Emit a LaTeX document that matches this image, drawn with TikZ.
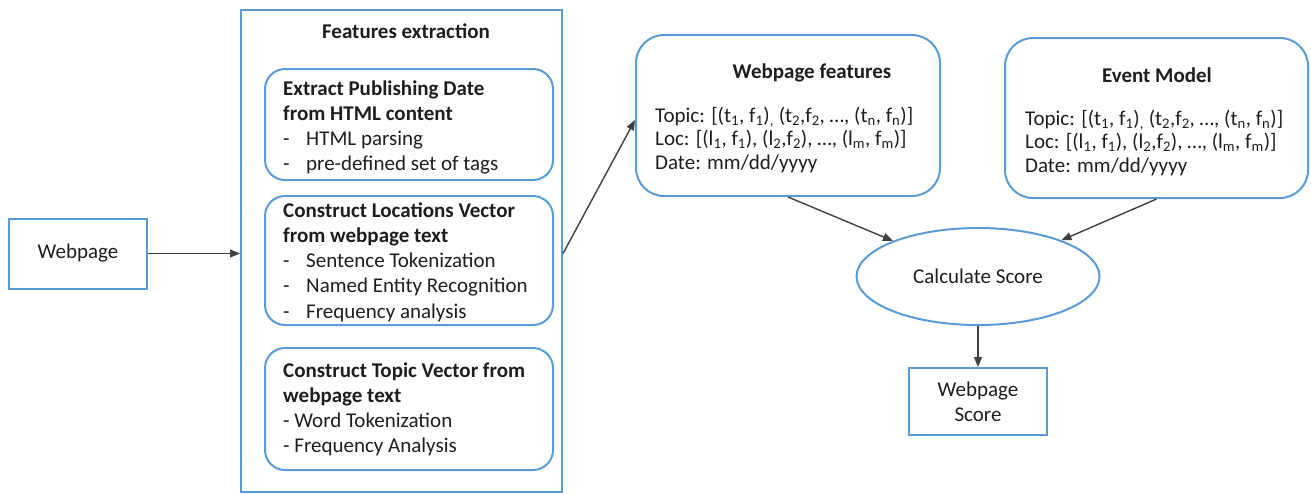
\documentclass[tikz,border=0pt]{standalone}
\usepackage{fontspec}
\setmainfont{Carlito}
\usetikzlibrary{arrows.meta,shapes.geometric}
\definecolor{boxblue}{RGB}{91,155,213}
\definecolor{linkgray}{RGB}{64,64,64}
\definecolor{inkcol}{RGB}{30,30,30}

% body text size and the two line pitches used in the boxes
\newcommand{\bodyfont}{\fontsize{21}{25.3}\selectfont}
\newcommand{\vecfont}{\fontsize{21}{23.5}\selectfont}
% dashed list item with a tab after the dash
\newcommand{\dashitem}[1]{\makebox[23pt][l]{-}#1}
\newcommand{\sbs}[1]{\textsubscript{#1}}

\begin{document}
\begin{tikzpicture}[x=1pt,y=-1pt,
  every node/.style={font=\bodyfont, text=inkcol},
  sqbox/.style={draw=boxblue, line width=2pt, inner sep=0pt},
  rbox/.style={sqbox, rounded corners=20pt},
  bigbox/.style={sqbox, rounded corners=28pt},
  txt/.style={anchor=base west, inner sep=0pt},
  ttl/.style={anchor=base, inner sep=0pt, font=\bodyfont\bfseries},
  link/.style={draw=linkgray, line width=1.4pt, -{Triangle[length=10pt,width=8pt]}}]

\useasboundingbox (0,0) rectangle (1311,493);

% input page
\node[sqbox, minimum width=138pt, minimum height=70pt] (web) at (78,253.5) {Webpage};

% feature extraction stage
\node[sqbox, minimum width=321pt, minimum height=482pt] (feat) at (401.5,251) {};
\node[ttl] (featttl) at (406,38) {Features extraction};

\node[rbox, minimum width=288pt, minimum height=111pt] (pub) at (409,124.5) {};
\node[txt] (pubtxt) at (283,95) {\begin{tabular}[t]{@{}l@{}}
  \bfseries Extract Publishing Date\\
  \bfseries from HTML content\\
  \dashitem{HTML parsing}\\
  \dashitem{pre-defined set of tags}
\end{tabular}};

\node[rbox, minimum width=288pt, minimum height=129pt] (loc) at (409,260.5) {};
\node[txt] (loctxt) at (283,217) {\begin{tabular}[t]{@{}l@{}}
  \bfseries Construct Locations Vector\\
  \bfseries from webpage text\\
  \dashitem{Sentence Tokenization}\\
  \dashitem{Named Entity Recognition}\\
  \dashitem{Frequency analysis}
\end{tabular}};

\node[rbox, minimum width=288pt, minimum height=122pt] (topic) at (409,409) {};
\node[txt] (topictxt) at (283,377) {\begin{tabular}[t]{@{}l@{}}
  \bfseries Construct Topic Vector from\\
  \bfseries webpage text\\
  - Word Tokenization\\
  - Frequency Analysis
\end{tabular}};

% feature vectors of the page
\node[bigbox, minimum width=304pt, minimum height=161pt] (wf) at (788,115.5) {};
\node[ttl] (wfttl) at (812,78) {Webpage features};
\node[txt, font=\vecfont] (wftxt) at (655,122) {\begin{tabular}[t]{@{}l@{}}
  Topic: [(t\sbs{1}, f\sbs{1})\sbs{,} (t\sbs{2},f\sbs{2}, …, (t\sbs{n}, f\sbs{n})]\\
  Loc: [(l\sbs{1}, f\sbs{1}), (l\sbs{2},f\sbs{2}), …, (l\sbs{m}, f\sbs{m})]\\
  Date: mm/dd/yyyy
\end{tabular}};

% event model
\node[bigbox, minimum width=303pt, minimum height=160pt] (em) at (1156.5,118) {};
\node[ttl] (emttl) at (1157,82) {Event Model};
\node[txt, font=\vecfont] (emtxt) at (1025,125) {\begin{tabular}[t]{@{}l@{}}
  Topic: [(t\sbs{1}, f\sbs{1})\sbs{,} (t\sbs{2},f\sbs{2}, …, (t\sbs{n}, f\sbs{n})]\\
  Loc: [(l\sbs{1}, f\sbs{1}), (l\sbs{2},f\sbs{2}), …, (l\sbs{m}, f\sbs{m})]\\
  Date: mm/dd/yyyy
\end{tabular}};

% scoring
\node[ellipse, draw=boxblue, line width=2pt, inner sep=0pt,
      minimum width=243pt, minimum height=97pt] (score) at (978,276.5) {Calculate Score};
\node[sqbox, minimum width=138pt, minimum height=67pt, align=center] (ws) at (978,401.5) {Webpage\\Score};

% connectors
\draw[link] (web.east) -- (web.east -| feat.west);
\draw[link] (web.east -| feat.east) -- ([yshift=-4.5pt]wf.west);
\draw[link] (wf.south) -- (score);
\draw[link] (em.south) -- (score);
\draw[link] (score.south) -- (ws.north);
\end{tikzpicture}
\end{document}
